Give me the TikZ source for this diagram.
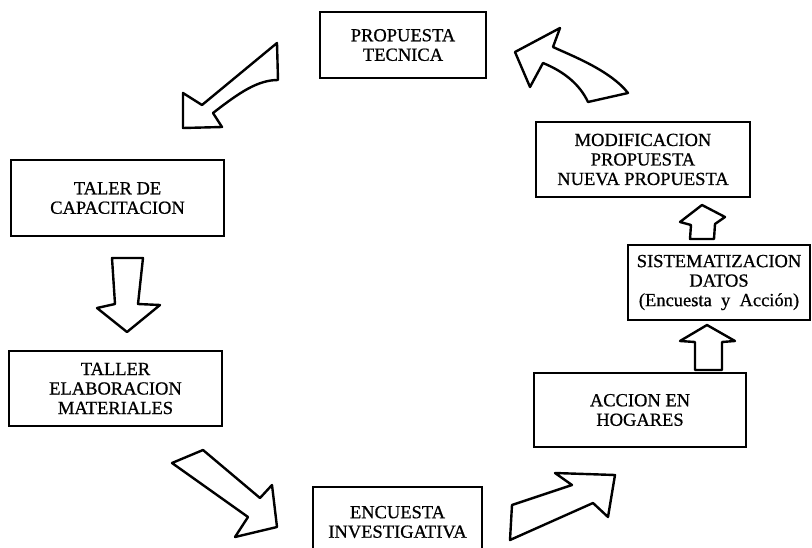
\documentclass[tikz,border=0pt]{standalone}
\usepackage{fontspec}
\setmainfont{Liberation Serif}
\newfontfamily\escaneo[FakeBold=0.7]{Liberation Serif}
\usetikzlibrary{positioning}

\begin{document}
\begin{tikzpicture}[x=1pt, y=-1pt,
    etapa/.style={draw, line width=1.2pt, inner sep=0pt, align=center,
      font=\escaneo\fontsize{18.5}{19.5}\selectfont},
    flecha/.style={draw, line width=2.4pt, line join=round}]
  \useasboundingbox (0,0) rectangle (812,547);
  \clip (0,0) rectangle (812,547);

  % Etapas del ciclo
  \node[etapa, minimum width=166pt, minimum height=66pt] (propuesta) at (403,45) {PROPUESTA\\TECNICA};
  \node[etapa, minimum width=213pt, minimum height=76pt] (capacitacion) at (117.5,198) {TALER DE\\CAPACITACION};
  \node[etapa, minimum width=213pt, minimum height=75pt] (materiales) at (115.5,388.5) {TALLER\\ELABORACION\\MATERIALES};
  \node[etapa, minimum width=169pt, minimum height=70pt] (encuesta) at (397.5,522) {ENCUESTA\\INVESTIGATIVA};
  \node[etapa, minimum width=212pt, minimum height=74pt] (accion) at (640,410) {ACCION EN\\HOGARES};
  \node[etapa, minimum width=182pt, minimum height=75pt] (datos) at (719,282.5) {SISTEMATIZACION\\DATOS\\(Encuesta \ y \ Acción)};
  \node[etapa, minimum width=214pt, minimum height=75pt] (modificacion) at (643,159.5) {MODIFICACION\\PROPUESTA\\NUEVA PROPUESTA};

  % Propuesta -> taller de capacitacion
  \draw[flecha] (277,43) -- (202,105) -- (183,93) -- (183,128) -- (222,127) -- (213,113)
    .. controls (240,92) and (258,80) .. (278,80) -- cycle;

  % Capacitacion -> elaboracion materiales
  \draw[flecha] (112,258) -- (143,258) -- (138,304) -- (160,305) -- (127,332) -- (97,308) -- (115,304) -- cycle;

  % Materiales -> encuesta
  \draw[flecha] (203,450) -- (260,498) -- (272,485) -- (277,527) -- (235,537) -- (248,517) -- (172,463) -- cycle;

  % Encuesta -> accion en hogares
  \draw[flecha] (512,505) -- (572,485) -- (555,473) -- (615,475) -- (608,517) -- (593,503) -- (510,540) -- cycle;

  % Accion -> sistematizacion
  \draw[flecha] (695,370) -- (695,342) -- (680,341) -- (707,325) -- (735,341) -- (722,342) -- (722,370) -- cycle;

  % Sistematizacion -> modificacion
  \draw[flecha] (690,239) -- (691,225) -- (680,222) -- (702,205) -- (725,217) -- (715,224) -- (714,239) -- cycle;

  % Modificacion -> propuesta tecnica
  \draw[flecha] (515,52) -- (560,28) -- (553,47) .. controls (570,55) and (610,70) .. (628,93)
    -- (588,102) .. controls (580,85) and (565,72) .. (543,63) -- (530,87) -- cycle;
\end{tikzpicture}
\end{document}
